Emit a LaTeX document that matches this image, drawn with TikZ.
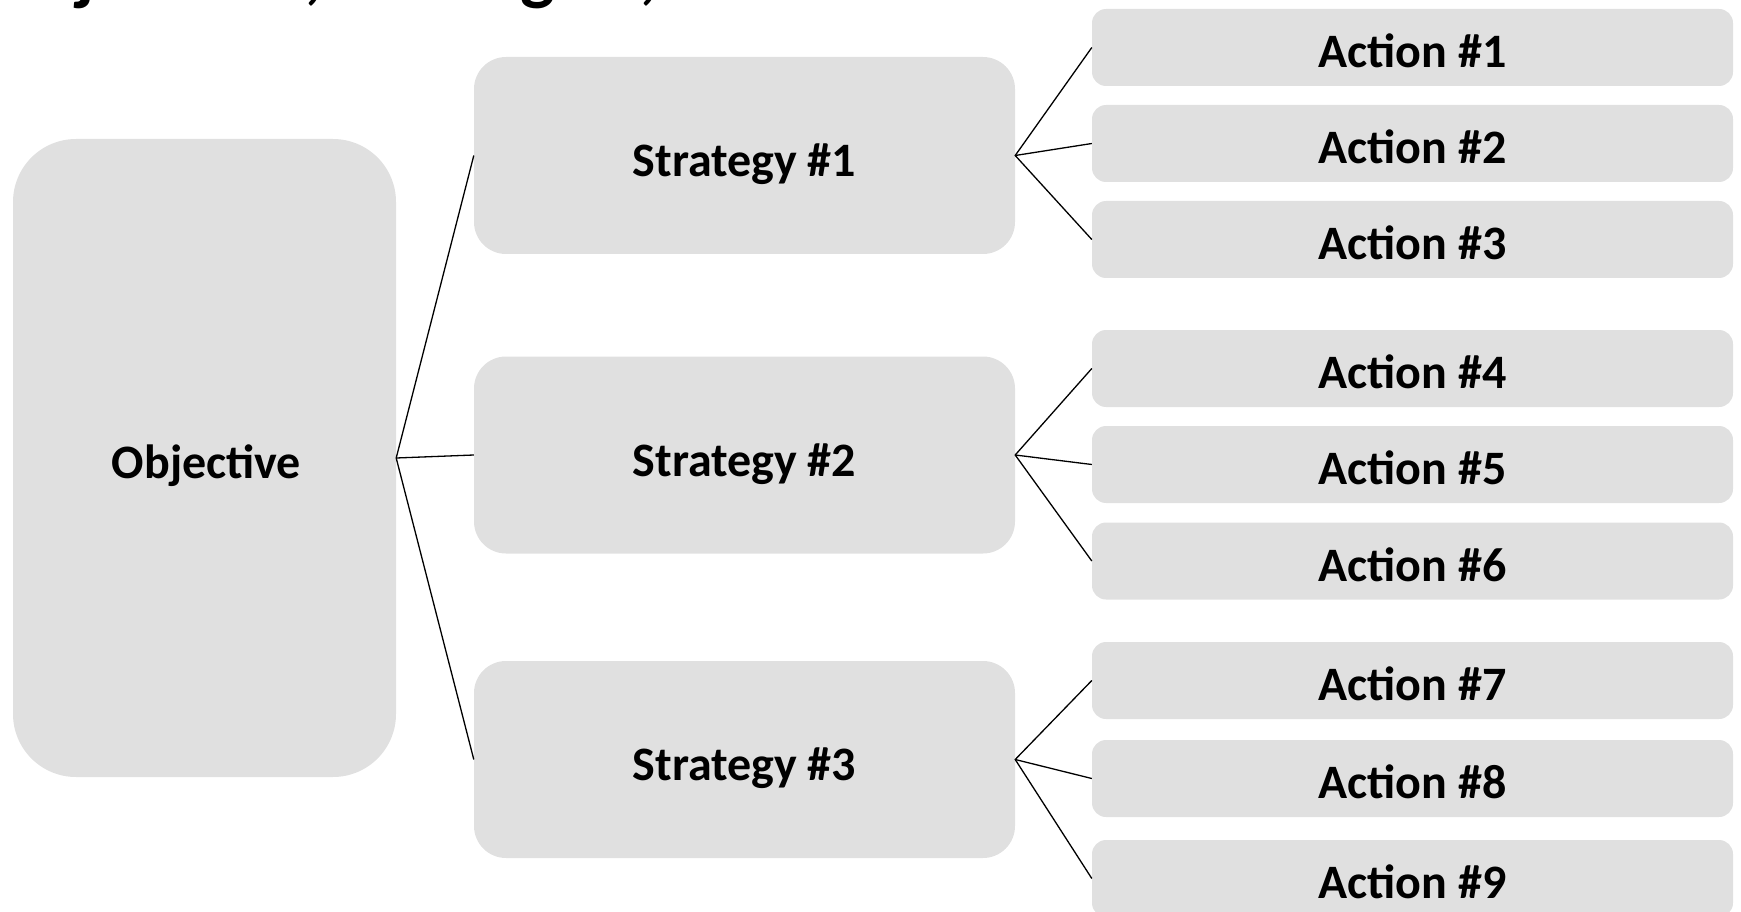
\documentclass[tikz,border=0pt]{standalone}
\usepackage{fontspec}
\setmainfont{Carlito}
\definecolor{boxgray}{RGB}{224,224,224}
\begin{document}
\begin{tikzpicture}[x=1pt,y=-1pt,
  boxbase/.style={fill=boxgray, draw=none, inner sep=0pt},
  boxtxt/.style={inner sep=0pt, text=black, font=\bfseries\fontsize{48}{58}\selectfont},
  objbox/.style={boxbase, rounded corners=63pt, minimum width=383pt, minimum height=638pt},
  stratbox/.style={boxbase, rounded corners=32pt, minimum width=541pt, minimum height=197pt},
  actbox/.style={boxbase, rounded corners=14pt, minimum width=641pt, minimum height=77pt},
  objtxt/.style={boxtxt, xshift=2pt, yshift=-8pt},
  strattxt/.style={boxtxt, yshift=-9pt},
  acttxt/.style={boxtxt, yshift=-3.5pt},
  conn/.style={draw=black, line width=1.3pt}]
\useasboundingbox (0,0) rectangle (1741,912);
% cut-off heading (only its lowest parts fall inside the picture)
\node[anchor=base west, inner sep=0pt, font=\bfseries\fontsize{73}{88}\selectfont] (head) at (-12.5,-3) {Objectives, Strategies, Actions};
% objective
\node[objbox, label={[objtxt]center:Objective}] (obj) at (204.5,458) {};
% strategies
\node[stratbox, label={[strattxt]center:Strategy \#1}] (s1) at (744.5,155.5) {};
\node[stratbox, label={[strattxt]center:Strategy \#2}] (s2) at (744.5,455) {};
\node[stratbox, label={[strattxt]center:Strategy \#3}] (s3) at (744.5,759.5) {};
% actions
\node[actbox, label={[acttxt]center:Action \#1}] (a1) at (1412.5,47.5) {};
\node[actbox, label={[acttxt]center:Action \#2}] (a2) at (1412.5,143.5) {};
\node[actbox, label={[acttxt]center:Action \#3}] (a3) at (1412.5,239.5) {};
\node[actbox, label={[acttxt]center:Action \#4}] (a4) at (1412.5,368.5) {};
\node[actbox, label={[acttxt]center:Action \#5}] (a5) at (1412.5,464.5) {};
\node[actbox, label={[acttxt]center:Action \#6}] (a6) at (1412.5,561) {};
\node[actbox, label={[acttxt]center:Action \#7}] (a7) at (1412.5,680.5) {};
\node[actbox, label={[acttxt]center:Action \#8}] (a8) at (1412.5,778.5) {};
\node[actbox, label={[acttxt]center:Action \#9}] (a9) at (1412.5,878.5) {};
% connectors
\draw[conn] (s1.west) -- (obj.east) -- (s3.west);
\draw[conn] (obj.east) -- (s2.west);
\draw[conn] (a1.west) -- (s1.east) -- (a3.west);
\draw[conn] (s1.east) -- (a2.west);
\draw[conn] (a4.west) -- (s2.east) -- (a6.west);
\draw[conn] (s2.east) -- (a5.west);
\draw[conn] (a7.west) -- (s3.east) -- (a9.west);
\draw[conn] (s3.east) -- (a8.west);
\end{tikzpicture}
\end{document}
